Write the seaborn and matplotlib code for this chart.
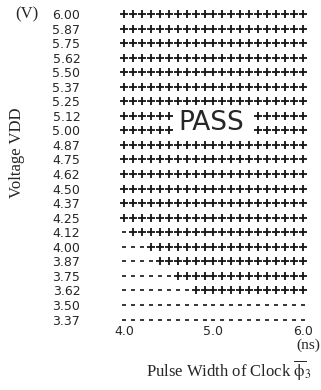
import pandas as pd
import matplotlib
matplotlib.use("Agg")
import matplotlib.pyplot as plt
import seaborn as sns

# supply voltage rows, top to bottom, as printed on the chart (V)
vdd_labels = ["6.00", "5.87", "5.75", "5.62", "5.50", "5.37", "5.25", "5.12",
              "5.00", "4.87", "4.75", "4.62", "4.50", "4.37", "4.25", "4.12",
              "4.00", "3.87", "3.75", "3.62", "3.50", "3.37"]

# pulse width columns (ns)
pulse_width = [4.0, 4.1, 4.2, 4.3, 4.4, 4.5, 4.6, 4.7, 4.8, 4.9, 5.0,
               5.1, 5.2, 5.3, 5.4, 5.5, 5.6, 5.7, 5.8, 5.9, 6.0]

# shmoo result per row: '+' pass, '-' fail, ' ' left blank for the PASS label
shmoo_rows = [
    "+++++++++++++++++++++",
    "+++++++++++++++++++++",
    "+++++++++++++++++++++",
    "+++++++++++++++++++++",
    "+++++++++++++++++++++",
    "+++++++++++++++++++++",
    "+++++++++++++++++++++",
    "++++++         ++++++",
    "++++++         ++++++",
    "+++++++++++++++++++++",
    "+++++++++++++++++++++",
    "+++++++++++++++++++++",
    "+++++++++++++++++++++",
    "+++++++++++++++++++++",
    "+++++++++++++++++++++",
    "-++++++++++++++++++++",
    "---++++++++++++++++++",
    "----+++++++++++++++++",
    "------+++++++++++++++",
    "--------+++++++++++++",
    "---------------------",
    "---------------------",
]

x_ticks = [4.0, 5.0, 6.0]
x_tick_labels = ["4.0", "5.0", "6.0"]


def build_frame():
    recs = []
    for label, row in zip(vdd_labels, shmoo_rows):
        for w, c in zip(pulse_width, row):
            if c == " ":
                continue
            recs.append((w, label, "pass" if c == "+" else "fail"))
    df = pd.DataFrame(recs, columns=["width", "vdd", "result"])
    df["vdd"] = pd.Categorical(df["vdd"], categories=vdd_labels)
    return df


def shmoo_plot(df):
    sns.set_style("white")
    plt.rcParams["font.family"] = ["DejaVu Sans"]
    plt.rcParams["mathtext.fontset"] = "stix"
    serif = ["Liberation Serif", "DejaVu Serif"]

    W, H = 321, 390
    fig = plt.figure(figsize=(W / 100, H / 100), dpi=100)
    # axes placed so 4.0 ns sits at x=124 px, 6.0 ns at x=303 px
    ax = fig.add_axes([115.05 / W, (H - 326.8) / H, 196.9 / W, 320.1 / H])

    sns.scatterplot(data=df[df.result == "pass"], x="width", y="vdd",
                    marker="+", s=28, color="#151515", linewidth=1.3, ax=ax)
    sns.scatterplot(data=df[df.result == "fail"], x="width", y="vdd",
                    marker="_", s=10, color="#151515", linewidth=1.2, ax=ax)

    ax.set_xlim(3.9, 6.1)
    ax.set_ylim(len(vdd_labels) - 0.5, -0.5)
    ax.set_xticks(x_ticks, x_tick_labels)
    ax.tick_params(axis="y", length=0, pad=25, labelsize=9)
    ax.tick_params(axis="x", length=0, pad=-1.5, labelsize=9)
    for s in ax.spines.values():
        s.set_visible(False)

    # PASS label in the gap of the two blank rows
    gap = [w for w, c in zip(pulse_width, shmoo_rows[7]) if c == " "]
    ax.text(sum(gap) / len(gap) - 0.03, 7.5, "PASS", ha="center", va="center",
            fontsize=19)

    ax.set_ylabel("Voltage VDD", family=serif, fontsize=12, va="center")
    ax.yaxis.set_label_coords(17.5 / W, 1 - 152.5 / H, transform=fig.transFigure)
    ax.set_xlabel(r"Pulse Width of Clock $\overline{\mathrm{\phi}}_3$",
                  family=serif, fontsize=12, va="center")
    ax.xaxis.set_label_coords(229 / W, 1 - 370 / H, transform=fig.transFigure)

    fig.text(38 / W, 1 - 14 / H, "(V)", ha="right", va="center",
             family=serif, fontsize=12)
    fig.text(308 / W, 1 - 345 / H, "(ns)", ha="center", va="center",
             family=serif, fontsize=11)

    fig.savefig("out.png", dpi=100)


if __name__ == "__main__":
    shmoo_plot(build_frame())
